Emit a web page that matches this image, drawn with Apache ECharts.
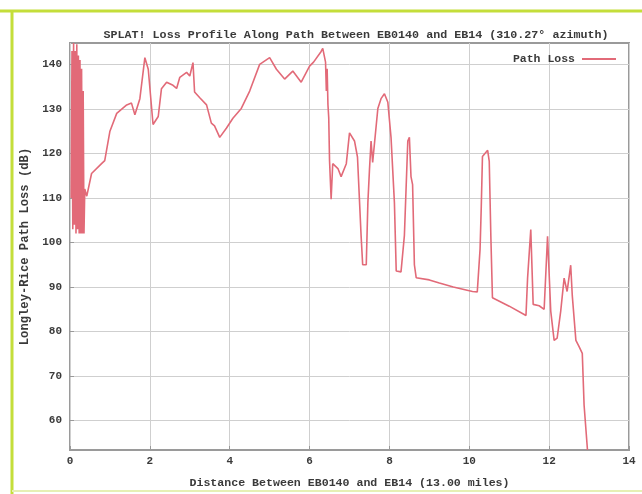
<!DOCTYPE html>
<html>
<head>
<meta charset="utf-8">
<script src="https://cdn.jsdelivr.net/npm/echarts@6/dist/echarts.min.js"></script>
<style>
html,body{margin:0;padding:0;background:#ffffff;}
#chart{width:642px;height:494px;}
</style>
</head>
<body>
<div id="chart"></div>
<script>
// Distance along path (miles)
const distance = [
  0.03, 0.05, 0.07, 0.09, 0.11, 0.13, 0.15, 0.17, 0.19, 0.21, 0.23, 0.25, 0.27, 0.29, 0.31, 0.33, 0.35, 0.37,
  0.42, 0.54, 0.79, 0.87, 1.00, 1.17, 1.42, 1.54, 1.625, 1.75, 1.875, 1.96,
  2.08, 2.21, 2.29, 2.42, 2.58, 2.67, 2.75, 2.92, 3.00, 3.08, 3.12, 3.25, 3.42, 3.54, 3.62, 3.75, 3.92,
  4.08, 4.29, 4.50, 4.75, 5.00, 5.17, 5.375, 5.58, 5.79, 6.00, 6.10, 6.29, 6.33, 6.40, 6.42, 6.44, 6.46, 6.48,
  6.50, 6.54, 6.58, 6.71, 6.79, 6.92, 7.00, 7.125, 7.20, 7.29, 7.33, 7.42, 7.46, 7.50, 7.54, 7.58,
  7.71, 7.79, 7.875, 7.96, 8.04, 8.125, 8.17, 8.29, 8.375, 8.46, 8.50, 8.54, 8.58, 8.625, 8.67,
  9.00, 9.25, 9.60, 10.08, 10.20, 10.27, 10.30, 10.33, 10.46, 10.50, 10.54, 10.58,
  11.00, 11.42, 11.46, 11.54, 11.60, 11.75, 11.875, 11.96, 12.04, 12.125, 12.20, 12.29, 12.375,
  12.45, 12.54, 12.58, 12.67, 12.75, 12.83, 12.875, 12.96
];
// Longley-Rice path loss (dB)
const pathLoss = [
  110, 143, 103, 144.8, 104, 143, 102, 144.5, 103, 142, 102, 141, 102, 139, 102, 134, 102, 112,
  110.4, 115.5, 117.7, 118.4, 125, 129, 130.9, 131.3, 128.7, 132.3, 141.5, 138.9,
  126.5, 128.3, 134.5, 136, 135.3, 134.6, 137.1, 138.2, 137.4, 140.4, 133.8, 132.5, 130.9, 126.8, 126.2, 123.6, 125.7,
  127.9, 130.1, 134.0, 140, 141.5, 138.9, 136.7, 138.5, 136, 139.6, 140.5, 142.9, 143.6, 140.5, 134, 139, 131, 128,
  118.4, 109.7, 117.7, 116.6, 114.8, 117.7, 124.6, 122.8, 119.2, 101.6, 95, 95, 108.9, 116.3, 122.8, 118,
  130.1, 132.3, 133.4, 131.5, 123.6, 108.9, 93.6, 93.4, 101.6, 122.8, 123.6, 114.8, 113, 95, 92.1,
  91.6, 90.9, 90.0, 89.0, 88.9, 98.5, 108, 119.3, 120.7, 118.2, 101.4, 87.6,
  85.7, 83.6, 92, 102.9, 86.1, 85.8, 85.0, 101.4, 84.6, 78, 78.5, 84.6, 92,
  89, 94.9, 88, 78, 76.6, 75.1, 63.5, 53.4
];
const xTicks = [0, 2, 4, 6, 8, 10, 12, 14];
const yTicks = [60, 70, 80, 90, 100, 110, 120, 130, 140];

const seriesData = distance.map((d, i) => [d, pathLoss[i]]);
const FONT = 'Liberation Mono';
const TXT = '#3a3a3a';
const LINE = '#e26a78';

const chart = echarts.init(document.getElementById('chart'), null, {renderer: 'canvas'});
chart.setOption({
  backgroundColor: '#ffffff',
  animation: false,
  title: {
    text: 'SPLAT! Loss Profile Along Path Between EB0140 and EB14 (310.27° azimuth)',
    left: 351, top: 24, textAlign: 'center',
    textStyle: {fontFamily: FONT, fontSize: 11.7, fontWeight: 'bold', color: TXT}
  },
  legend: {
    data: ['Path Loss'],
    right: 21, top: 48, align: 'right',
    icon: 'rect', itemWidth: 34, itemHeight: 2, itemGap: 5,
    textStyle: {fontFamily: FONT, fontSize: 11.5, fontWeight: 'bold', color: TXT, padding: [0, 2, 0, 0]}
  },
  grid: {
    left: 70, right: 13, top: 43, bottom: 34,
    show: true, borderColor: '#9a9a9a', borderWidth: 2, backgroundColor: 'transparent'
  },
  xAxis: {
    type: 'value', min: 0, max: 14, interval: 2,
    name: 'Distance Between EB0140 and EB14 (13.00 miles)',
    nameLocation: 'middle', nameGap: 27,
    nameTextStyle: {fontFamily: FONT, fontSize: 11.6, fontWeight: 'bold', color: TXT},
    axisLine: {show: false},
    axisTick: {show: true, inside: true, length: 4, lineStyle: {color: '#9a9a9a'}},
    axisLabel: {fontFamily: FONT, fontSize: 11, fontWeight: 'bold', color: TXT, margin: 6},
    splitLine: {show: true, lineStyle: {color: '#cfcfcf', width: 1}}
  },
  yAxis: {
    type: 'value', min: 53.4, max: 144.8,
    name: 'Longley-Rice Path Loss (dB)',
    nameLocation: 'middle', nameGap: 39, nameRotate: 90,
    nameTextStyle: {fontFamily: FONT, fontSize: 12.2, fontWeight: 'bold', color: TXT},
    axisLine: {show: false},
    axisTick: {show: true, inside: true, length: 4, lineStyle: {color: '#9a9a9a'}, customValues: yTicks},
    axisLabel: {fontFamily: FONT, fontSize: 11, fontWeight: 'bold', color: TXT, margin: 8, customValues: yTicks},
    splitLine: {show: true, lineStyle: {color: '#cfcfcf', width: 1}}
  },
  series: [{
    name: 'Path Loss',
    type: 'line',
    data: seriesData,
    showSymbol: false,
    symbol: 'none',
    lineStyle: {color: LINE, width: 1.6},
    itemStyle: {color: LINE}
  }],
  graphic: [
    {type: 'line', shape: {x1: 0, y1: 11, x2: 642, y2: 11}, style: {stroke: '#c4de3a', lineWidth: 3}, silent: true},
    {type: 'line', shape: {x1: 12, y1: 11, x2: 12, y2: 494}, style: {stroke: '#c4de3a', lineWidth: 3}, silent: true},
    {type: 'line', shape: {x1: 12, y1: 491, x2: 642, y2: 491}, style: {stroke: '#e6f0b4', lineWidth: 2}, silent: true}
  ]
});
</script>
</body>
</html>
